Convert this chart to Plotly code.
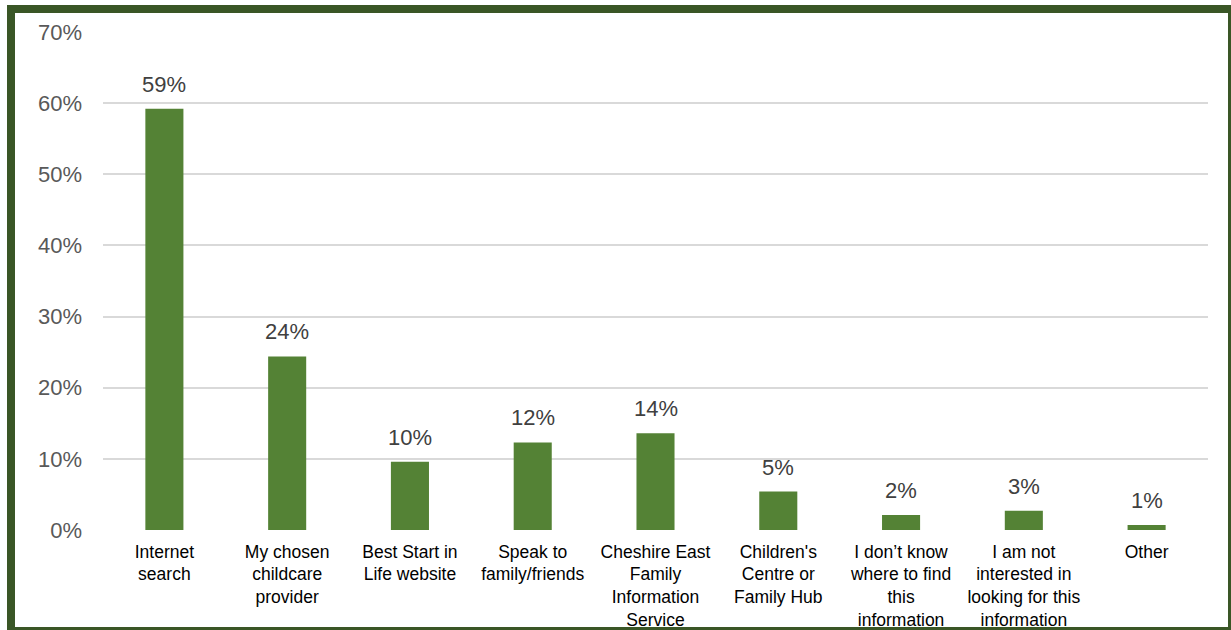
import plotly.graph_objects as go

# Survey responses: where parents look for childcare information
categories = [
    "Internet<br>search",
    "My chosen<br>childcare<br>provider",
    "Best Start in<br>Life website",
    "Speak to<br>family/friends",
    "Cheshire East<br>Family<br>Information<br>Service",
    "Children's<br>Centre or<br>Family Hub",
    "I don’t know<br>where to find<br>this<br>information",
    "I am not<br>interested in<br>looking for this<br>information",
    "Other",
]
percentages = [59.2, 24.4, 9.6, 12.3, 13.6, 5.4, 2.1, 2.7, 0.7]
y_ticks = [0, 10, 20, 30, 40, 50, 60, 70]

BAR_GREEN = "#548235"
FRAME_GREEN = "#3a5626"
FONT = "Liberation Sans, Arial, sans-serif"

W, H = 1231, 630
ML, MR, MT, MB = 103, 23, 32, 100

fig = go.Figure(
    go.Bar(
        x=categories,
        y=percentages,
        marker=dict(color=BAR_GREEN, line=dict(width=0)),
        hoverinfo="skip",
    )
)

# value labels above each bar
for cat, val in zip(categories, percentages):
    fig.add_annotation(
        x=cat, y=val, text=f"{val:.0f}%",
        showarrow=False, yanchor="bottom", yshift=10,
        font=dict(family=FONT, size=22, color="#404040"),
    )

# dark green frame around the whole chart
pw, ph = W - ML - MR, H - MT - MB
def px_to_paper_x(px):
    return (px - ML) / pw
def px_to_paper_y(py):
    return (H - MB - py) / ph

fig.add_shape(
    type="rect", xref="paper", yref="paper",
    x0=px_to_paper_x(11), x1=px_to_paper_x(1232),
    y0=px_to_paper_y(631), y1=px_to_paper_y(9),
    line=dict(color=FRAME_GREEN, width=8), fillcolor="rgba(0,0,0,0)",
    layer="above",
)

fig.update_layout(
    width=W, height=H,
    margin=dict(l=ML, r=MR, t=MT, b=MB, pad=0, autoexpand=False),
    paper_bgcolor="white", plot_bgcolor="white",
    bargap=0.69,
    showlegend=False,
    font=dict(family=FONT),
)
fig.update_xaxes(
    showgrid=False, showline=False, zeroline=False, ticks="",
    tickfont=dict(family=FONT, size=17.5, color="#000000"),
    ticklabelstandoff=9, automargin=False,
)
fig.update_yaxes(
    range=[0, 70], tickvals=y_ticks, ticktext=[f"{v}%" for v in y_ticks],
    showgrid=True, gridcolor="#d9d9d9", gridwidth=1.5,
    zeroline=False, showline=False, ticks="",
    tickfont=dict(family=FONT, size=22, color="#595959"),
    ticklabelstandoff=20, automargin=False,
)

fig.write_html("out.html")
